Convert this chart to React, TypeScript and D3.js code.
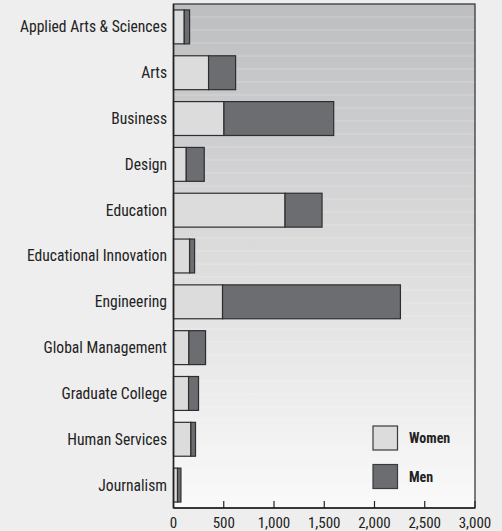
import React from "react";
import * as d3 from "d3";

const categories = [
  "Applied Arts & Sciences",
  "Arts",
  "Business",
  "Design",
  "Education",
  "Educational Innovation",
  "Engineering",
  "Global Management",
  "Graduate College",
  "Human Services",
  "Journalism",
];
const women = [107, 349, 502, 127, 1110, 160, 488, 153, 150, 173, 40];
const men = [53, 269, 1092, 179, 368, 50, 1770, 166, 99, 46, 34];
const xTicks = [0, 500, 1000, 1500, 2000, 2500, 3000];
const seriesNames = ["Women", "Men"];

const W = 502;
const H = 531;
const FONT = "'Liberation Sans Narrow', 'Roboto Condensed', 'DejaVu Sans Condensed', 'Liberation Sans', sans-serif";

export default function App() {
  const left = 173.5;
  const right = 475;
  const top = 4;
  const bottom = 508;
  const x = d3.scaleLinear().domain([0, 3000]).range([left, right]);
  const y = d3.scaleBand().domain(categories).range([top, bottom]).paddingInner(0.26).paddingOuter(0.13);
  const colors = ["#dcdcdd", "#6c6d70"];
  const stripes = d3.range(top + 13, bottom, 13);
  const fmt = d3.format(",");

  return (
    <svg width={W} height={H} style={{ position: "absolute", left: 0, top: 0 }} fontFamily={FONT}>
      <defs>
        <linearGradient id="bg" x1="0" y1="0" x2="0" y2="1">
          <stop offset="0" stopColor="#bdbec0" />
          <stop offset="0.5" stopColor="#dcdcdd" />
          <stop offset="1" stopColor="#fafafa" />
        </linearGradient>
      </defs>
      <rect x={0} y={0} width={W} height={H} fill="#eeeeee" />
      <rect x={left} y={top} width={right - left} height={bottom - top} fill="url(#bg)" />
      {stripes.map((s, i) => (
        <line key={i} x1={left} x2={right} y1={s} y2={s} stroke="#ffffff" strokeOpacity={0.25} strokeWidth={1} />
      ))}
      {categories.map((c, i) => {
        const y0 = y(c)!;
        const bh = y.bandwidth();
        return (
          <g key={c}>
            <rect x={x(0)} y={y0} width={x(women[i]) - x(0)} height={bh} fill={colors[0]} stroke="#2e2e30" strokeWidth={1.2} />
            <rect x={x(women[i])} y={y0} width={x(women[i] + men[i]) - x(women[i])} height={bh} fill={colors[1]} stroke="#2e2e30" strokeWidth={1.2} />
            <text x={167} y={y0 + bh / 2} dy="0.35em" textAnchor="end" fontSize={15.6} fill="#222">
              {c}
            </text>
          </g>
        );
      })}
      <rect x={left} y={top} width={right - left} height={bottom - top} fill="none" stroke="#3a3a3c" strokeWidth={1.3} />
      <line x1={left} x2={left} y1={top} y2={bottom} stroke="#222" strokeWidth={1.5} />
      <line x1={left} x2={right} y1={bottom} y2={bottom} stroke="#222" strokeWidth={1.5} />
      {xTicks.map((t) => (
        <g key={t}>
          <line x1={x(t)} x2={x(t)} y1={bottom - 7} y2={bottom} stroke="#222" strokeWidth={1.2} />
          <text x={x(t)} y={528} textAnchor="middle" fontSize={15} fill="#222">
            {fmt(t)}
          </text>
        </g>
      ))}
      {seriesNames.map((n, i) => (
        <g key={n}>
          <rect x={373} y={426 + i * 38.5} width={24.5} height={24} fill={colors[i]} stroke="#3a3a3c" strokeWidth={1.2} />
          <text x={409} y={443} dy={i * 38.5} fontSize={14} fontWeight="bold" fill="#222">
            {n}
          </text>
        </g>
      ))}
    </svg>
  );
}
